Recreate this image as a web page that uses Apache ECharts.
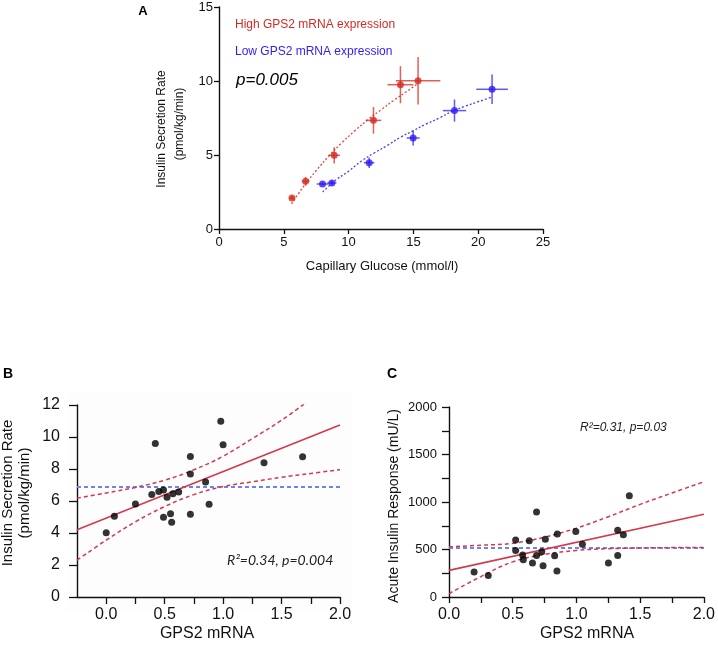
<!DOCTYPE html>
<html><head><meta charset="utf-8">
<script src="https://cdn.jsdelivr.net/npm/echarts@6/dist/echarts.min.js"></script>
<style>html,body{margin:0;padding:0;background:#fff}#c{width:718px;height:647px}</style>
</head><body><div id="c"></div>
<script>
// ---------- Panel A ----------
const highX = [5.63, 6.68, 8.89, 11.92, 14.0, 15.36];
const highY = [2.09, 3.22, 4.98, 7.34, 9.75, 10.02];
const highXErr = [0.2, 0.3, 0.45, 0.6, 1.0, 1.72];
const highYErr = [0.15, 0.3, 0.55, 0.9, 1.25, 1.6];
const lowX = [7.99, 8.71, 11.59, 14.98, 18.17, 21.07];
const lowY = [3.04, 3.11, 4.48, 6.15, 8.0, 9.44];
const lowXErr = [0.45, 0.35, 0.4, 0.5, 0.9, 1.22];
const lowYErr = [0.1, 0.15, 0.35, 0.5, 0.75, 1.0];
const highFitX = [5.6, 6.5, 7.5, 8.5, 9.5, 10.5, 11.5, 12.5, 13.5, 14.5, 15.3];
const highFitY = [1.7, 2.85, 3.95, 4.95, 5.85, 6.65, 7.4, 8.05, 8.7, 9.3, 9.8];
const lowFitX = [8.0, 9.0, 10.0, 11.0, 12.0, 13.0, 14.0, 15.0, 16.0, 17.0, 18.0, 19.0, 20.0, 21.0];
const lowFitY = [2.5, 3.3, 3.9, 4.6, 5.15, 5.65, 6.2, 6.65, 7.1, 7.5, 7.95, 8.3, 8.6, 8.9];
// ---------- Panel B ----------
const bX = [0.0, 0.07, 0.25, 0.39, 0.42, 0.45, 0.49, 0.52, 0.49, 0.55, 0.56, 0.57, 0.62, 0.72, 0.72, 0.72, 0.85, 0.88, 0.98, 1.0, 1.35, 1.68];
const bY = [4.01, 5.04, 5.81, 6.41, 9.59, 6.60, 6.68, 6.23, 4.98, 5.21, 4.67, 6.46, 6.56, 8.78, 7.68, 5.17, 7.18, 5.79, 10.98, 9.51, 8.39, 8.76];
const bFitX = [-0.25, 2.0];
const bFitY = [4.21, 10.75];
const bUpperX = [-0.25, 0, 0.25, 0.5, 0.75, 1.0, 1.25, 1.5, 1.7];
const bUpperY = [6.18, 6.5, 6.85, 7.3, 7.95, 8.8, 9.9, 11.05, 12.1];
const bLowerX = [-0.25, 0, 0.25, 0.5, 0.75, 1.0, 1.25, 1.5, 1.75, 2.0];
const bLowerY = [2.3, 3.55, 4.7, 5.65, 6.4, 6.9, 7.2, 7.48, 7.72, 7.96];
const bMean = 6.87;
// ---------- Panel C ----------
const cX = [0.197, 0.308, 0.523, 0.523, 0.578, 0.583, 0.630, 0.655, 0.687, 0.687, 0.728, 0.738, 0.756, 0.829, 0.850, 0.847, 0.995, 1.047, 1.251, 1.324, 1.324, 1.368, 1.415];
const cY = [262, 227, 601, 490, 441, 392, 591, 357, 895, 437, 476, 329, 608, 434, 664, 273, 689, 556, 357, 703, 437, 654, 1066];
const cFitX = [0, 2.0];
const cFitY = [280, 872];
const cUpperX = [0, 0.25, 0.5, 0.75, 1.0, 1.25, 1.5, 1.75, 2.0];
const cUpperY = [528, 545, 565, 630, 725, 845, 975, 1095, 1213];
const cLowerX = [0, 0.25, 0.5, 0.75, 1.0, 1.25, 1.5, 1.75, 2.0];
const cLowerY = [35, 215, 370, 448, 490, 508, 516, 520, 522];
const cMean = 517;

const RED = '#d42a22', BLUE = '#2f1cf5';
const LRED = '#d23a4c', LBLUE = '#6f80f2';
const FONT = '"Liberation Sans", Arial, sans-serif';

const zip = (xs, ys) => xs.map((x, i) => [x, ys[i]]);
const errData = (xs, ys, ex, ey) => xs.map((x, i) => [x, ys[i], ex[i], ey[i]]);
function errRender(color) {
  return function (params, api) {
    const x = api.value(0), y = api.value(1), ex = api.value(2), ey = api.value(3);
    const l = api.coord([x - ex, y]), r = api.coord([x + ex, y]);
    const t = api.coord([x, y + ey]), b = api.coord([x, y - ey]);
    const st = { stroke: color, lineWidth: 1.5, opacity: 0.75 };
    return { type: 'group', children: [
      { type: 'line', shape: { x1: l[0], y1: l[1], x2: r[0], y2: r[1] }, style: st },
      { type: 'line', shape: { x1: t[0], y1: t[1], x2: b[0], y2: b[1] }, style: st }
    ]};
  };
}
function axisBase(fs, tickLen, margin) {
  return {
    axisLine: { show: true, onZero: false, lineStyle: { color: '#111', width: 1.4 } },
    axisTick: { show: true, inside: false, length: tickLen, lineStyle: { color: '#111', width: 1.3 } },
    axisLabel: { fontSize: fs, fontFamily: FONT, color: '#111', margin: margin },
    splitLine: { show: false }
  };
}
const half = v => Math.abs(v * 2 - Math.round(v * 2)) < 1e-9 ? v.toFixed(1) : '';

const chart = echarts.init(document.getElementById('c'), null, { renderer: 'canvas' });
const option = {
  animation: false,
  backgroundColor: '#fff',
  grid: [
    { left: 219, top: 7, width: 324, height: 222 },
    { left: 77, top: 405, width: 263, height: 192 },
    { left: 449, top: 407, width: 257, height: 190 }
  ],
  xAxis: [
    Object.assign(axisBase(13, 5, 7), { type: 'value', gridIndex: 0, min: 0, max: 25, interval: 5 }),
    Object.assign(axisBase(16, 7, 10), { type: 'value', gridIndex: 1, min: -0.25, max: 2, interval: 0.25,
      axisLabel: { fontSize: 16, fontFamily: FONT, color: '#111', margin: 10, formatter: half, showMinLabel: false } }),
    Object.assign(axisBase(16, 6, 10), { type: 'value', gridIndex: 2, min: 0, max: 2, interval: 0.25,
      axisLabel: { fontSize: 16, fontFamily: FONT, color: '#111', margin: 10, formatter: half } })
  ],
  yAxis: [
    Object.assign(axisBase(13, 5, 6), { type: 'value', gridIndex: 0, min: 0, max: 15, interval: 5 }),
    Object.assign(axisBase(16, 8, 17), { type: 'value', gridIndex: 1, min: 0, max: 12, interval: 2 }),
    Object.assign(axisBase(13, 7, 12), { type: 'value', gridIndex: 2, min: 0, max: 2000, interval: 250,
      axisLabel: { fontSize: 13, fontFamily: FONT, color: '#111', margin: 12, formatter: v => (v % 500 === 0 ? String(v) : '') } })
  ],
  series: [
    // Panel A
    { type: 'line', xAxisIndex: 0, yAxisIndex: 0, data: zip(highFitX, highFitY), smooth: 0.4, symbol: 'none',
      lineStyle: { color: RED, width: 1.3, type: [2, 2], opacity: 0.85 }, z: 2 },
    { type: 'line', xAxisIndex: 0, yAxisIndex: 0, data: zip(lowFitX, lowFitY), smooth: 0.4, symbol: 'none',
      lineStyle: { color: BLUE, width: 1.3, type: [2, 2], opacity: 0.85 }, z: 2 },
    { type: 'custom', xAxisIndex: 0, yAxisIndex: 0, renderItem: errRender(RED), data: errData(highX, highY, highXErr, highYErr), z: 3 },
    { type: 'custom', xAxisIndex: 0, yAxisIndex: 0, renderItem: errRender(BLUE), data: errData(lowX, lowY, lowXErr, lowYErr), z: 3 },
    { type: 'scatter', xAxisIndex: 0, yAxisIndex: 0, data: zip(highX, highY), symbolSize: 7, itemStyle: { color: RED }, z: 4 },
    { type: 'scatter', xAxisIndex: 0, yAxisIndex: 0, data: zip(lowX, lowY), symbolSize: 7, itemStyle: { color: BLUE }, z: 4 },
    // Panel B
    { type: 'line', xAxisIndex: 1, yAxisIndex: 1, data: [[-0.25, bMean], [2.0, bMean]], symbol: 'none',
      lineStyle: { color: LBLUE, width: 2, type: [4, 3] }, z: 2 },
    { type: 'line', xAxisIndex: 1, yAxisIndex: 1, data: zip(bUpperX, bUpperY), smooth: 0.4, symbol: 'none',
      lineStyle: { color: LRED, width: 1.5, type: [4, 3] }, z: 2 },
    { type: 'line', xAxisIndex: 1, yAxisIndex: 1, data: zip(bLowerX, bLowerY), smooth: 0.4, symbol: 'none',
      lineStyle: { color: LRED, width: 1.5, type: [4, 3] }, z: 2 },
    { type: 'line', xAxisIndex: 1, yAxisIndex: 1, data: zip(bFitX, bFitY), symbol: 'none',
      lineStyle: { color: LRED, width: 1.6 }, z: 3 },
    { type: 'scatter', xAxisIndex: 1, yAxisIndex: 1, data: zip(bX, bY), symbolSize: 7, itemStyle: { color: '#000' }, z: 4 },
    // Panel C
    { type: 'line', xAxisIndex: 2, yAxisIndex: 2, data: [[0, cMean], [2.0, cMean]], symbol: 'none',
      lineStyle: { color: LBLUE, width: 2, type: [4, 3] }, z: 2 },
    { type: 'line', xAxisIndex: 2, yAxisIndex: 2, data: zip(cUpperX, cUpperY), smooth: 0.4, symbol: 'none',
      lineStyle: { color: LRED, width: 1.5, type: [4, 3] }, z: 2 },
    { type: 'line', xAxisIndex: 2, yAxisIndex: 2, data: zip(cLowerX, cLowerY), smooth: 0.4, symbol: 'none',
      lineStyle: { color: LRED, width: 1.5, type: [4, 3] }, z: 2 },
    { type: 'line', xAxisIndex: 2, yAxisIndex: 2, data: zip(cFitX, cFitY), symbol: 'none',
      lineStyle: { color: LRED, width: 1.6 }, z: 3 },
    { type: 'scatter', xAxisIndex: 2, yAxisIndex: 2, data: zip(cX, cY), symbolSize: 7, itemStyle: { color: '#000' }, z: 4 }
  ],
  graphic: [
    { type: 'rect', z: -100, silent: true, shape: { x: 67, y: 392, width: 285, height: 220 }, style: { fill: '#fdfdfd' } },
    // panel letters
    { type: 'text', x: 143, y: 11, style: { text: 'A', font: 'bold 13px ' + FONT, fill: '#000', textAlign: 'center', textVerticalAlign: 'middle' } },
    { type: 'text', x: 8, y: 374, style: { text: 'B', font: 'bold 14px ' + FONT, fill: '#000', textAlign: 'center', textVerticalAlign: 'middle' } },
    { type: 'text', x: 392, y: 374, style: { text: 'C', font: 'bold 14px ' + FONT, fill: '#000', textAlign: 'center', textVerticalAlign: 'middle' } },
    // Panel A texts
    { type: 'text', x: 162, y: 129, rotation: Math.PI / 2, style: { text: 'Insulin Secretion Rate', font: '12px ' + FONT, fill: '#111', textAlign: 'center', textVerticalAlign: 'middle' } },
    { type: 'text', x: 180, y: 124, rotation: Math.PI / 2, style: { text: '(pmol/kg/min)', font: '12px ' + FONT, fill: '#111', textAlign: 'center', textVerticalAlign: 'middle' } },
    { type: 'text', x: 382, y: 266, style: { text: 'Capillary Glucose (mmol/l)', font: '13px ' + FONT, fill: '#111', textAlign: 'center', textVerticalAlign: 'middle' } },
    { type: 'text', x: 235, y: 25, style: { text: 'High GPS2 mRNA expression', font: '12px ' + FONT, fill: RED, textAlign: 'left', textVerticalAlign: 'middle' } },
    { type: 'text', x: 235, y: 52, style: { text: 'Low GPS2 mRNA expression', font: '12px ' + FONT, fill: BLUE, textAlign: 'left', textVerticalAlign: 'middle' } },
    { type: 'text', x: 236, y: 80, style: { text: 'p=0.005', font: 'italic 17px ' + FONT, fill: '#000', textAlign: 'left', textVerticalAlign: 'middle' } },
    // Panel B texts
    { type: 'text', x: 8, y: 493, rotation: Math.PI / 2, style: { text: 'Insulin Secretion Rate', font: '15px ' + FONT, fill: '#111', textAlign: 'center', textVerticalAlign: 'middle' } },
    { type: 'text', x: 25, y: 493, rotation: Math.PI / 2, style: { text: '(pmol/kg/min)', font: '15px ' + FONT, fill: '#111', textAlign: 'center', textVerticalAlign: 'middle' } },
    { type: 'text', x: 207, y: 634, style: { text: 'GPS2 mRNA', font: '16px ' + FONT, fill: '#111', textAlign: 'center', textVerticalAlign: 'middle' } },
    { type: 'text', x: 227, y: 560, style: { text: 'R²=0.34, p=0.004', font: 'italic 14px Lato, ' + FONT, fill: '#222', textAlign: 'left', textVerticalAlign: 'middle' } },
    // Panel C texts
    { type: 'text', x: 394, y: 506, rotation: Math.PI / 2, style: { text: 'Acute Insulin Response (mU/L)', font: '14px ' + FONT, fill: '#111', textAlign: 'center', textVerticalAlign: 'middle' } },
    { type: 'text', x: 587, y: 634, style: { text: 'GPS2 mRNA', font: '16px ' + FONT, fill: '#111', textAlign: 'center', textVerticalAlign: 'middle' } },
    { type: 'text', x: 580, y: 428, style: { text: 'R²=0.31, p=0.03', font: 'italic 12px ' + FONT, fill: '#222', textAlign: 'left', textVerticalAlign: 'middle' } }
  ]
};
chart.setOption(option);
</script>
</body></html>
